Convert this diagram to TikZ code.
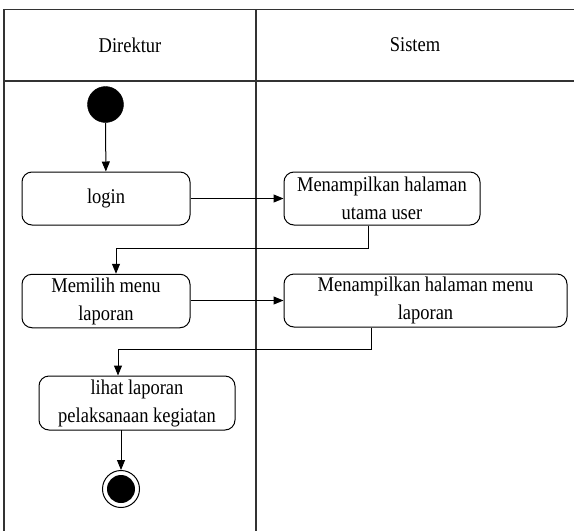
\documentclass[tikz,border=0pt]{standalone}
\usepackage{fontspec}
\setmainfont{Liberation Serif}[FakeStretch=0.88]
\usetikzlibrary{arrows.meta}
\begin{document}
\begin{tikzpicture}[x=1pt,y=-1pt,
  lane/.style={draw=black!80,line width=1.3pt},
  action/.style={draw=black,line width=1pt,rounded corners=10pt,inner sep=0pt,
    align=center,font=\fontsize{21}{28}\selectfont},
  lanelabel/.style={font=\fontsize{21}{28}\selectfont},
  startnode/.style={circle,fill=black,draw=black,minimum size=36pt,inner sep=0pt},
  endring/.style={circle,draw=black,line width=1pt,fill=white,minimum size=37pt,inner sep=0pt},
  flow/.style={draw=black,line width=1pt,-{Triangle[length=10pt,width=8pt]}}]
\useasboundingbox (0,0) rectangle (574,531);

% swimlane frame
\coordinate (ftl) at (4,9.5);
\coordinate (ftr) at (574,9.5);
\coordinate (fhl) at (4,81);
\coordinate (fhr) at (574,81);
\coordinate (fbl) at (4,531);
\coordinate (dtop) at (256,9.5);
\coordinate (dbot) at (256,531);
\draw[lane] (ftr) -- (ftl) -- (fbl);
\draw[lane] (fhl) -- (fhr);
\draw[lane] (dtop) -- (dbot);

\node[lanelabel] (hdir) at (130,45) {Direktur};
\node[lanelabel] (hsys) at (415,45) {Sistem};

% activities
\node[startnode] (start) at (105.5,104.5) {};
\node[action,minimum width=168pt,minimum height=53pt] (login) at (106,198.5) {login};
\node[action,minimum width=196pt,minimum height=53pt] (home) at (382,198.5)
  {Menampilkan halaman\\utama user};
\node[action,minimum width=168pt,minimum height=53.5pt] (menu) at (106,301)
  {Memilih menu\\laporan};
\node[action,minimum width=283pt,minimum height=53pt] (showmenu) at (425.5,300.5)
  {Menampilkan halaman menu\\laporan};
\node[action,minimum width=196pt,minimum height=54pt] (report) at (137,403)
  {lihat laporan\\pelaksanaan kegiatan};
\node[endring] (finish) at (121,489) {};
\node[circle,fill=black,minimum size=28pt,inner sep=0pt] (finishdot) at (finish) {};

% control flow
\draw[flow] (start) -- (login);
\draw[flow] (login) -- (home);
\coordinate (e1a) at (368,248);
\coordinate (e1b) at (116,248);
\draw[flow] (home.south -| e1a) -- (e1a) -- (e1b) -- (e1b |- menu.north);
\draw[flow] (menu.east |- showmenu) -- (showmenu);
\coordinate (e2a) at (371,349);
\coordinate (e2b) at (118,349);
\draw[flow] (showmenu.south -| e2a) -- (e2a) -- (e2b) -- (e2b |- report.north);
\coordinate (e3) at (121,430);
\draw[flow] (e3) -- (finish.north);
\end{tikzpicture}
\end{document}
